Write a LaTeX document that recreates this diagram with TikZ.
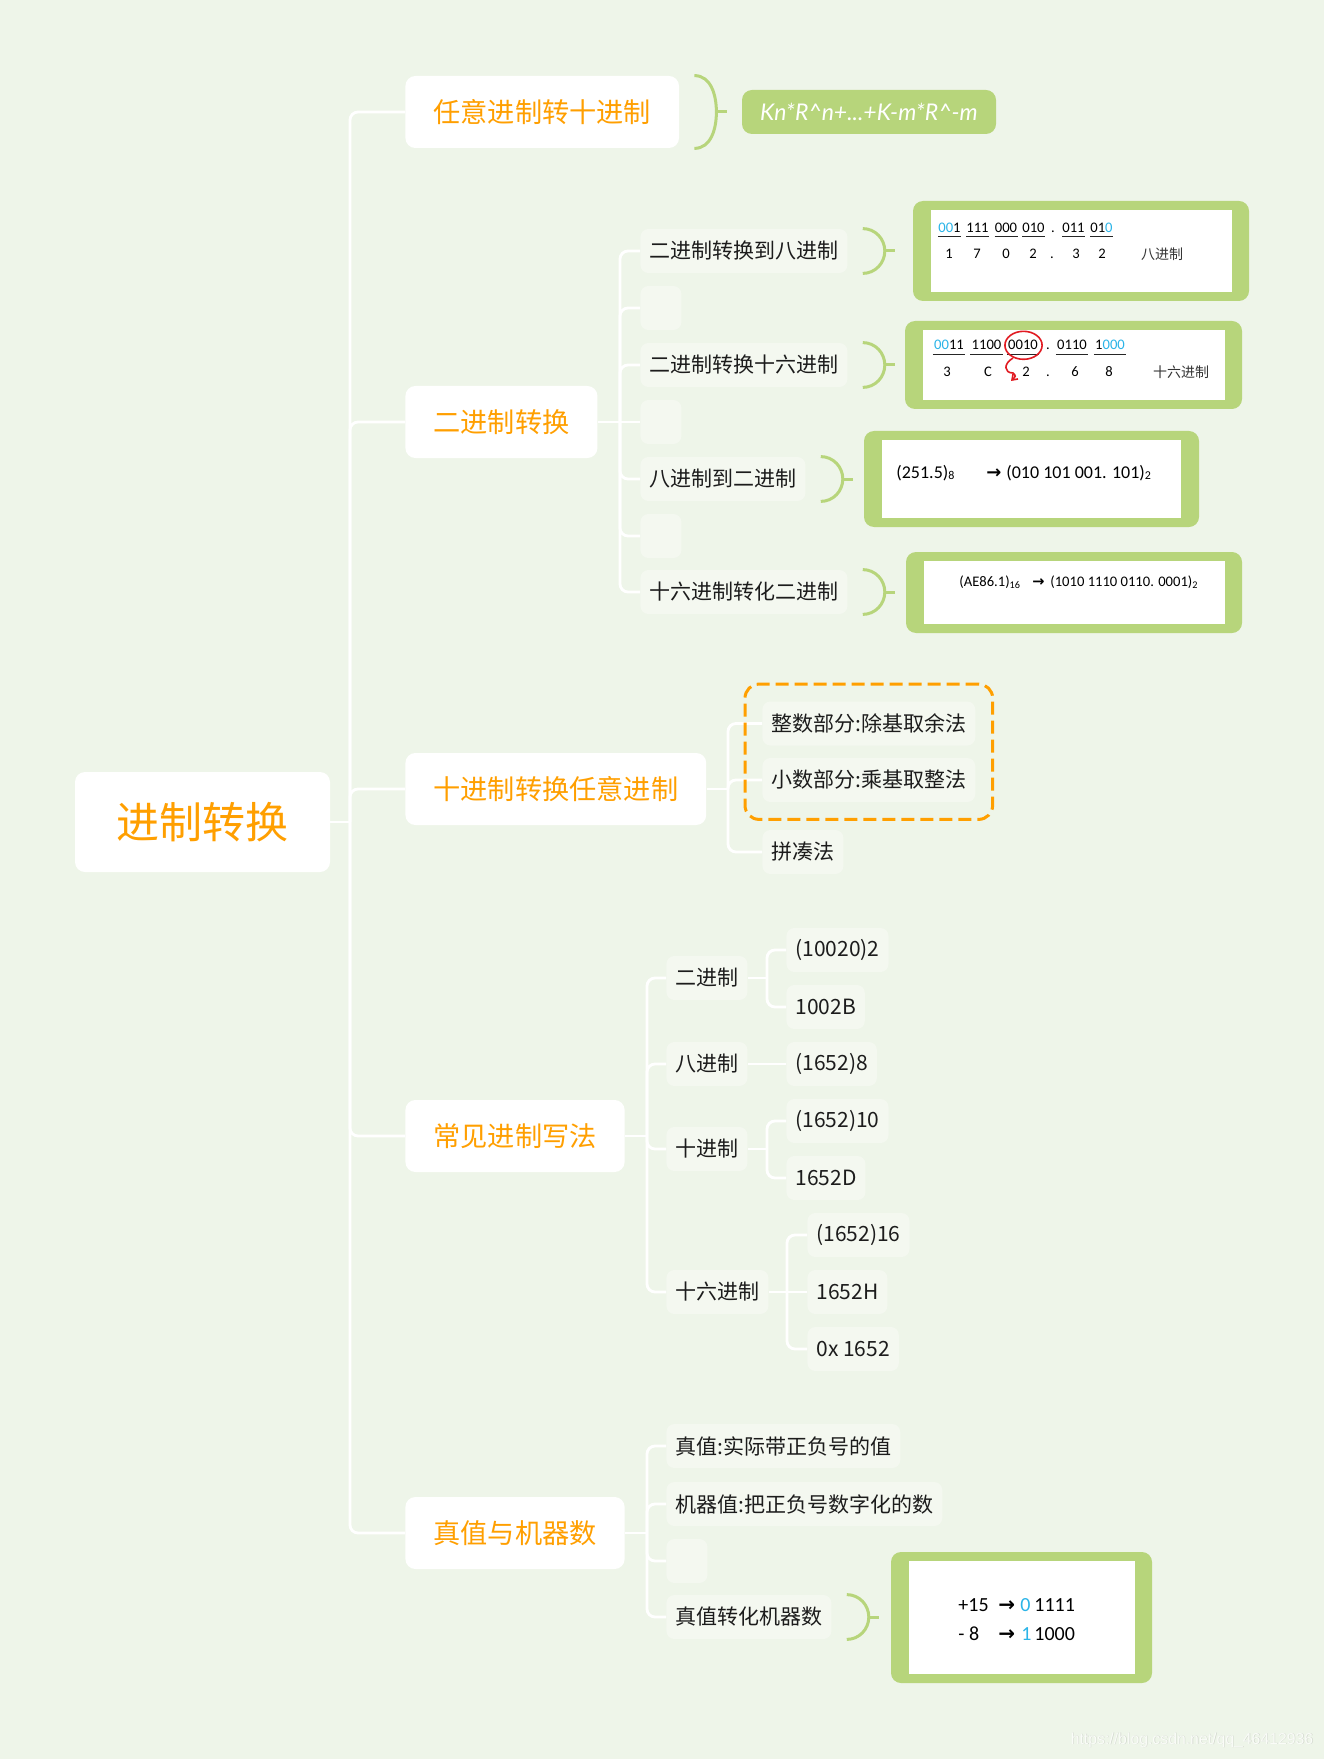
\documentclass[tikz,border=0pt]{standalone}
\usepackage{fontspec}
\usetikzlibrary{calc,fit,arrows.meta}
\newfontfamily\cjk{Noto Sans CJK SC}
\newfontfamily\carl{Carlito}
\newfontfamily\dvs{DejaVu Sans}
\newfontfamily\latof{Lato}
\newfontfamily\wmf{Liberation Sans}
\definecolor{bgc}{HTML}{EEF5E9}
\definecolor{subc}{HTML}{F4F8F0}
\definecolor{greenc}{HTML}{B7D57B}
\definecolor{orangec}{HTML}{FF9F00}
\definecolor{bluec}{HTML}{2AB4E8}
\definecolor{redc}{HTML}{E11B22}
\definecolor{txtc}{HTML}{1C1C1C}
\newcommand\brkt[2]{%
  \draw[brk] ($(#1.north east)+(15,0)$) to[out=0,in=90] ($(#1.east)+(37,0)$) to[out=-90,in=0] ($(#1.south east)+(15,0)$);
  \draw[brk] ($(#1.east)+(37,0)$) -- ++(#2,0);}
\newcommand\innerwhite[1]{\fill[white] ($(#1.south west)+(18,9)$) rectangle ($(#1.north east)+(-17,-9)$);}
\newcommand\ularr{{\dvs\bfseries →}}
\begin{document}
\begin{tikzpicture}[x=0.5pt,y=0.5pt,
  rootn/.style={fill=white, rounded corners=5pt, text=orangec, font=\cjk\fontsize{21.5pt}{26pt}\selectfont, minimum width=127.5pt, minimum height=50pt, inner sep=0pt},
  lone/.style={fill=white, rounded corners=5pt, text=orangec, font=\cjk\fontsize{13.6pt}{17pt}\selectfont, minimum height=36pt, inner xsep=14pt, inner ysep=0pt, anchor=west},
  ltwo/.style={fill=subc, rounded corners=4pt, text=txtc, font=\cjk\fontsize{10.5pt}{13pt}\selectfont, minimum height=22pt, inner xsep=4.5pt, inner ysep=0pt, anchor=west},
  blank/.style={ltwo, minimum width=20.5pt},
  conn/.style={draw=white, line width=1.4pt, rounded corners=4pt},
  brk/.style={draw=greenc, line width=1.5pt},
  imgbox/.style={fill=greenc, rounded corners=5pt, inner sep=0pt},
  formula/.style={fill=greenc, rounded corners=5pt, text=white, font=\latof\itshape\fontsize{11.5pt}{14pt}\selectfont, minimum width=127pt, minimum height=22pt, inner sep=0pt},
  dA/.style={font=\carl\fontsize{7.3pt}{9pt}\selectfont, inner sep=0pt, text=black, anchor=base},
  cA/.style={font=\cjk\fontsize{7pt}{9pt}\selectfont, inner sep=0pt, text=black!80, anchor=base},
  dE/.style={font=\carl\fontsize{9pt}{11pt}\selectfont, inner sep=0pt, text=black, anchor=base west},
  dG/.style={font=\carl\fontsize{7.3pt}{9pt}\selectfont, inner sep=0pt, text=black, anchor=base west},
  dT/.style={font=\carl\fontsize{10pt}{12pt}\selectfont, inner sep=0pt, text=black, anchor=base west},
  ul/.style={draw=black!85, line width=0.4pt},
  dbox/.style={draw=orangec, line width=1.5pt, dash pattern=on 6.5pt off 3pt, rounded corners=7pt, inner sep=8.5pt}
]
\fill[bgc] (0,0) rectangle (1324,-1759);
\useasboundingbox (0,0) rectangle (1324,-1759);

% ---------- main nodes ----------
\node[rootn] (root) at (202.5,-822) {进制转换};
\node[lone] (n1) at (405,-112) {任意进制转十进制};
\node[lone] (n2) at (405,-422) {二进制转换};
\node[lone] (n3) at (405,-789) {十进制转换任意进制};
\node[lone] (n4) at (405,-1136) {常见进制写法};
\node[lone] (n5) at (405,-1533) {真值与机器数};

\coordinate (j1) at (350,-822);
\draw[conn] (root.east) -- (j1);
\foreach \n in {n1,n2,n3,n4,n5} \draw[conn] (j1) |- (\n.west);

% ---------- formula ----------
\node[formula] (fm) at (869,-112) {Kn*R\textasciicircum n+...+K-m*R\textasciicircum -m};
\brkt{n1}{11}

% ---------- binary conversions ----------
\node[ltwo] (ba) at (640,-251) {二进制转换到八进制};
\node[blank] (bb) at (640,-308) {};
\node[ltwo] (bc) at (640,-365) {二进制转换十六进制};
\node[blank] (bd) at (640,-422) {};
\node[ltwo] (be) at (640,-479) {八进制到二进制};
\node[blank] (bf) at (640,-536) {};
\node[ltwo] (bg) at (640,-592) {十六进制转化二进制};
\coordinate (j2) at (620,-422);
\draw[conn] (n2.east) -- (j2);
\foreach \n in {ba,bb,bc,be,bf,bg} \draw[conn] (j2) |- (\n.west);
\draw[conn] (j2) -- (bd.west);

\brkt{ba}{10}
\brkt{bc}{10}
\brkt{be}{10}
\brkt{bg}{10}

% box A
\node[imgbox, minimum width=168pt, minimum height=50pt] (boxA) at (1081,-251) {};
\innerwhite{boxA}
\node[dA] (ga1) at (949.5,-232.3) {\textcolor{bluec}{00}1};
\node[dA] (ga2) at (977.5,-232.3) {111};
\node[dA] (ga3) at (1006,-232.3) {000};
\node[dA] (ga4) at (1033.5,-232.3) {010};
\node[dA] (gad) at (1053,-232.3) {.};
\node[dA] (ga5) at (1073.5,-232.3) {011};
\node[dA] (ga6) at (1101.5,-232.3) {01\textcolor{bluec}{0}};
\foreach \g in {ga1,ga2,ga3,ga4,ga5,ga6}
  \draw[ul] ($(\g.base west)+(0,-4)$) -- ($(\g.base east)+(0,-4)$);
\node[dA] (ra1) at (949,-259) {1};
\node[dA] (ra2) at (977,-259) {7};
\node[dA] (ra3) at (1006,-259) {0};
\node[dA] (ra4) at (1033,-259) {2};
\node[dA] (rad) at (1052,-259) {.};
\node[dA] (ra5) at (1076,-259) {3};
\node[dA] (ra6) at (1102,-259) {2};
\node[cA] (la) at (1162,-259.5) {八进制};

% box C
\node[imgbox, minimum width=168.5pt, minimum height=44pt] (boxC) at (1073.5,-365) {};
\innerwhite{boxC}
\node[dA] (gc1) at (949,-350) {\textcolor{bluec}{00}11};
\node[dA] (gc2) at (986.5,-350) {1100};
\node[dA] (gc3) at (1023,-350) {0010};
\node[dA] (gcd) at (1048,-350) {.};
\node[dA] (gc4) at (1072,-350) {0110};
\node[dA] (gc5) at (1110,-350) {1\textcolor{bluec}{000}};
\foreach \g in {gc1,gc2,gc3,gc4,gc5}
  \draw[ul] ($(\g.base west)+(-1,-4)$) -- ($(\g.base east)+(1,-4)$);
\node[dA] (rc1) at (947,-376.7) {3};
\node[dA] (rc2) at (988,-376.7) {C};
\node[dA] (rc3) at (1026,-376.7) {2};
\node[dA] (rcd) at (1048,-376.7) {.};
\node[dA] (rc4) at (1075,-376.7) {6};
\node[dA] (rc5) at (1109,-376.7) {8};
\node[cA] (lc) at (1181,-377.2) {十六进制};
\draw[redc, line width=0.8pt] ($(gc3.center)+(0.5,0)$) ellipse [x radius=9.3pt, y radius=7pt];
\draw[redc, line width=0.8pt, -{Straight Barb[length=2.5pt,width=3.5pt]}]
  (1013,-358) .. controls (1003,-364) and (1004,-373) .. (1013,-373) .. controls (1016,-376) .. (1011,-381);

% box E
\node[imgbox, minimum width=167.5pt, minimum height=48pt] (boxE) at (1031.5,-479) {};
\fill[white] ($(boxE.south west)+(18,9)$) rectangle ($(boxE.north east)+(-18,-9)$);
\node[dE] (te1) at (896,-478) {(251.5)\textsubscript{8}};
\node[dE] (tea) at (986,-478) {\ularr};
\node[dE] (te2) at (1006,-478) {(010 101 001. 101)\textsubscript{2}};

% box G
\node[imgbox, minimum width=168pt, minimum height=40.5pt] (boxG) at (1074,-592.5) {};
\innerwhite{boxG}
\node[dG] (tg1) at (959,-586.5) {(AE86.1)\textsubscript{16}};
\node[dG] (tga) at (1032,-586.5) {\ularr};
\node[dG] (tg2) at (1050,-586.5) {(1010 1110 0110. 0001)\textsubscript{2}};

% ---------- decimal to any base ----------
\node[ltwo] (dz) at (762,-723.5) {整数部分:除基取余法};
\node[ltwo] (dx) at (762,-780) {小数部分:乘基取整法};
\node[ltwo] (dp) at (762,-852) {拼凑法};
\coordinate (j3) at (728,-789);
\draw[conn] (n3.east) -- (j3);
\foreach \n in {dz,dx,dp} \draw[conn] (j3) |- (\n.west);
\node[dbox, fit=(dz)(dx)] (dashbox) {};

% ---------- common notations ----------
\node[ltwo] (cb) at (666,-978) {二进制};
\node[ltwo] (co) at (666,-1064) {八进制};
\node[ltwo] (cd) at (666,-1149) {十进制};
\node[ltwo] (ch) at (666,-1292) {十六进制};
\coordinate (j4) at (647,-1136);
\draw[conn] (n4.east) -- (j4);
\foreach \n in {cb,co,cd,ch} \draw[conn] (j4) |- (\n.west);

\node[ltwo] (cb1) at (786,-950) {(10020)2};
\node[ltwo] (cb2) at (786,-1007) {1002B};
\node[ltwo] (co1) at (786,-1064) {(1652)8};
\node[ltwo] (cd1) at (786,-1121) {(1652)10};
\node[ltwo] (cd2) at (786,-1178) {1652D};
\node[ltwo] (ch1) at (807,-1235) {(1652)16};
\node[ltwo] (ch2) at (807,-1292) {1652H};
\node[ltwo] (ch3) at (807,-1349) {0x 1652};
\coordinate (jb) at (767,-978);
\coordinate (jd) at (767,-1149);
\coordinate (jh) at (787,-1292);
\draw[conn] (cb.east) -- (jb);
\draw[conn] (jb) |- (cb1.west);
\draw[conn] (jb) |- (cb2.west);
\draw[conn] (co.east) -- (co1.west);
\draw[conn] (cd.east) -- (jd);
\draw[conn] (jd) |- (cd1.west);
\draw[conn] (jd) |- (cd2.west);
\draw[conn] (ch.east) -- (jh);
\draw[conn] (jh) |- (ch1.west);
\draw[conn] (jh) -- (ch2.west);
\draw[conn] (jh) |- (ch3.west);

% ---------- true value & machine number ----------
\node[ltwo] (t1) at (666,-1446) {真值:实际带正负号的值};
\node[ltwo] (t2) at (666,-1504) {机器值:把正负号数字化的数};
\node[blank] (t3) at (666,-1561) {};
\node[ltwo] (t4) at (666,-1617) {真值转化机器数};
\coordinate (j5) at (647,-1533);
\draw[conn] (n5.east) -- (j5);
\foreach \n in {t1,t2,t3,t4} \draw[conn] (j5) |- (\n.west);
\brkt{t4}{10}

\node[imgbox, minimum width=130.5pt, minimum height=65.5pt] (boxT) at (1021.5,-1617.5) {};
\innerwhite{boxT}
\node[dT] (tt1) at (958,-1611) {+15};
\node[dT] (tt2) at (998,-1611) {\ularr};
\node[dT] (tt3) at (1020,-1611) {\textcolor{bluec}{0}};
\node[dT] (tt4) at (1034,-1611) {1111};
\node[dT] (tt5) at (958,-1640) {- 8};
\node[dT] (tt6) at (998,-1640) {\ularr};
\node[dT] (tt7) at (1021,-1640) {\textcolor{bluec}{1}};
\node[dT] (tt8) at (1034,-1640) {1000};

% ---------- watermark ----------
\node[font=\wmf\fontsize{7.9pt}{9pt}\selectfont, text=black!12!bgc, inner sep=0pt] (wm0) at (1192.6,-1740.6) {https://blog.csdn.net/qq\_46412936};
\node[font=\wmf\fontsize{7.9pt}{9pt}\selectfont, text=white!70!bgc, inner sep=0pt] (wm) at (1192,-1740) {https://blog.csdn.net/qq\_46412936};
\end{tikzpicture}
\end{document}
